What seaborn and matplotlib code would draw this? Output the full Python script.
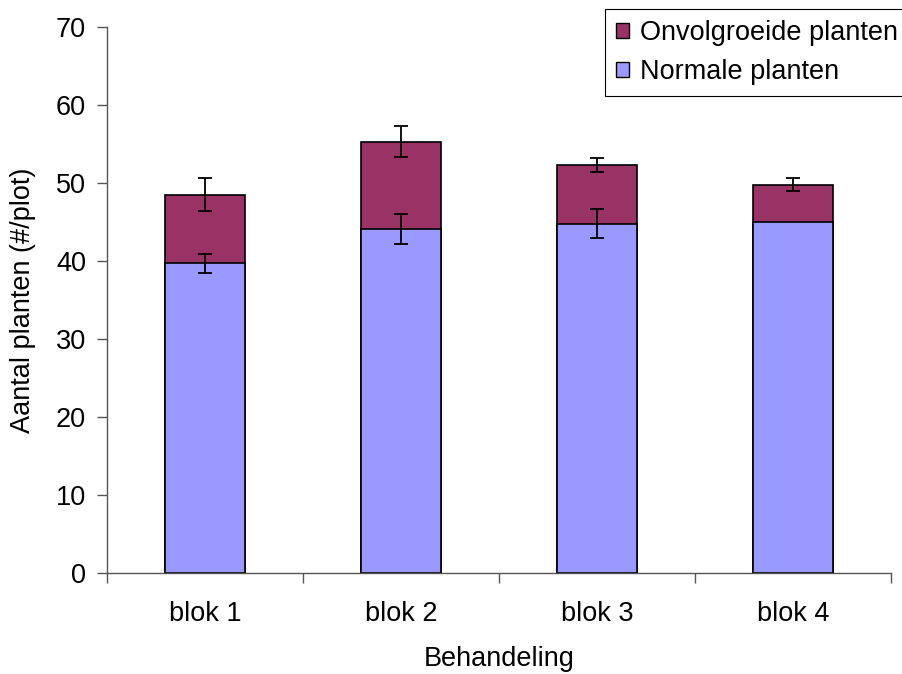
import matplotlib
matplotlib.use("Agg")
import matplotlib.pyplot as plt
import seaborn as sns
import numpy as np
import pandas as pd
from matplotlib.patches import Patch

# data
blokken = ['blok 1', 'blok 2', 'blok 3', 'blok 4']
normaal = [39.7, 44.1, 44.8, 45.0]
onvolgroeid = [8.8, 11.2, 7.5, 4.8]
err_normaal = [1.25, 1.9, 1.9, np.nan]
err_totaal = [2.1, 1.95, 0.95, 0.8]

sns.set_theme(style='white')
plt.rcParams['font.family'] = ['Liberation Sans', 'DejaVu Sans']
plt.rcParams['text.color'] = 'black'
plt.rcParams['axes.labelcolor'] = 'black'
plt.rcParams['xtick.labelcolor'] = 'black'
plt.rcParams['ytick.labelcolor'] = 'black'

df = pd.DataFrame({'blok': blokken, 'normaal': normaal, 'onvolgroeid': onvolgroeid})
df['totaal'] = df['normaal'] + df['onvolgroeid']

fig = plt.figure(figsize=(9.03, 6.74), dpi=100)
ax = fig.add_axes([107 / 903, 101 / 674, 784 / 903, 546 / 674])

kleur_onv = '#993366'
kleur_norm = '#9999FF'
fs = 19.5

# stacked bars: total first, then normal on top of it
sns.barplot(data=df, x='blok', y='totaal', color=kleur_onv, saturation=1,
            width=0.41, edgecolor='black', linewidth=1.2, ax=ax)
sns.barplot(data=df, x='blok', y='normaal', color=kleur_norm, saturation=1,
            width=0.41, edgecolor='black', linewidth=1.2, ax=ax)

pos = np.arange(len(blokken))
ax.errorbar(pos, df['totaal'], yerr=err_totaal, fmt='none', ecolor='black',
            elinewidth=1.3, capsize=5, capthick=1.3, zorder=5)
ax.errorbar(pos, df['normaal'], yerr=err_normaal, fmt='none', ecolor='black',
            elinewidth=1.3, capsize=5, capthick=1.3, zorder=5)

ax.set_xlim(-0.5, 3.5)
ax.set_ylim(0, 70)
ax.set_yticks(range(0, 71, 10))
ax.tick_params(axis='y', labelsize=fs, length=7, width=1, color='#555555',
               direction='out', left=True, pad=8)
ax.tick_params(axis='x', labelsize=fs, length=0, pad=20)
# tick marks between the categories, Excel style
ax.set_xticks([-0.5, 0.5, 1.5, 2.5, 3.5], minor=True)
ax.tick_params(axis='x', which='minor', length=7, width=1, color='#555555',
               direction='out', bottom=True)

for side in ['top', 'right']:
    ax.spines[side].set_visible(False)
ax.spines['left'].set_color('#555555')
ax.spines['bottom'].set_color('#555555')
ax.spines['left'].set_linewidth(1)
ax.spines['bottom'].set_linewidth(1)

ax.set_xlabel('Behandeling', fontsize=fs, labelpad=14)
ax.set_ylabel('Aantal planten (#/plot)', fontsize=fs, labelpad=14)

handles = [Patch(facecolor=kleur_onv, edgecolor='black', linewidth=1),
           Patch(facecolor=kleur_norm, edgecolor='black', linewidth=1)]
leg = fig.legend(handles, ['Onvolgroeide planten', 'Normale planten'],
                 loc='upper left', bbox_to_anchor=(605 / 903, 1 - 9 / 674),
                 fontsize=fs, frameon=True, fancybox=False, framealpha=1,
                 edgecolor='black', handlelength=0.5, handleheight=0.5,
                 handletextpad=0.4, borderpad=0.4, labelspacing=0.5,
                 borderaxespad=0)
leg.get_frame().set_linewidth(0.8)

fig.savefig('out.png', dpi=100)
